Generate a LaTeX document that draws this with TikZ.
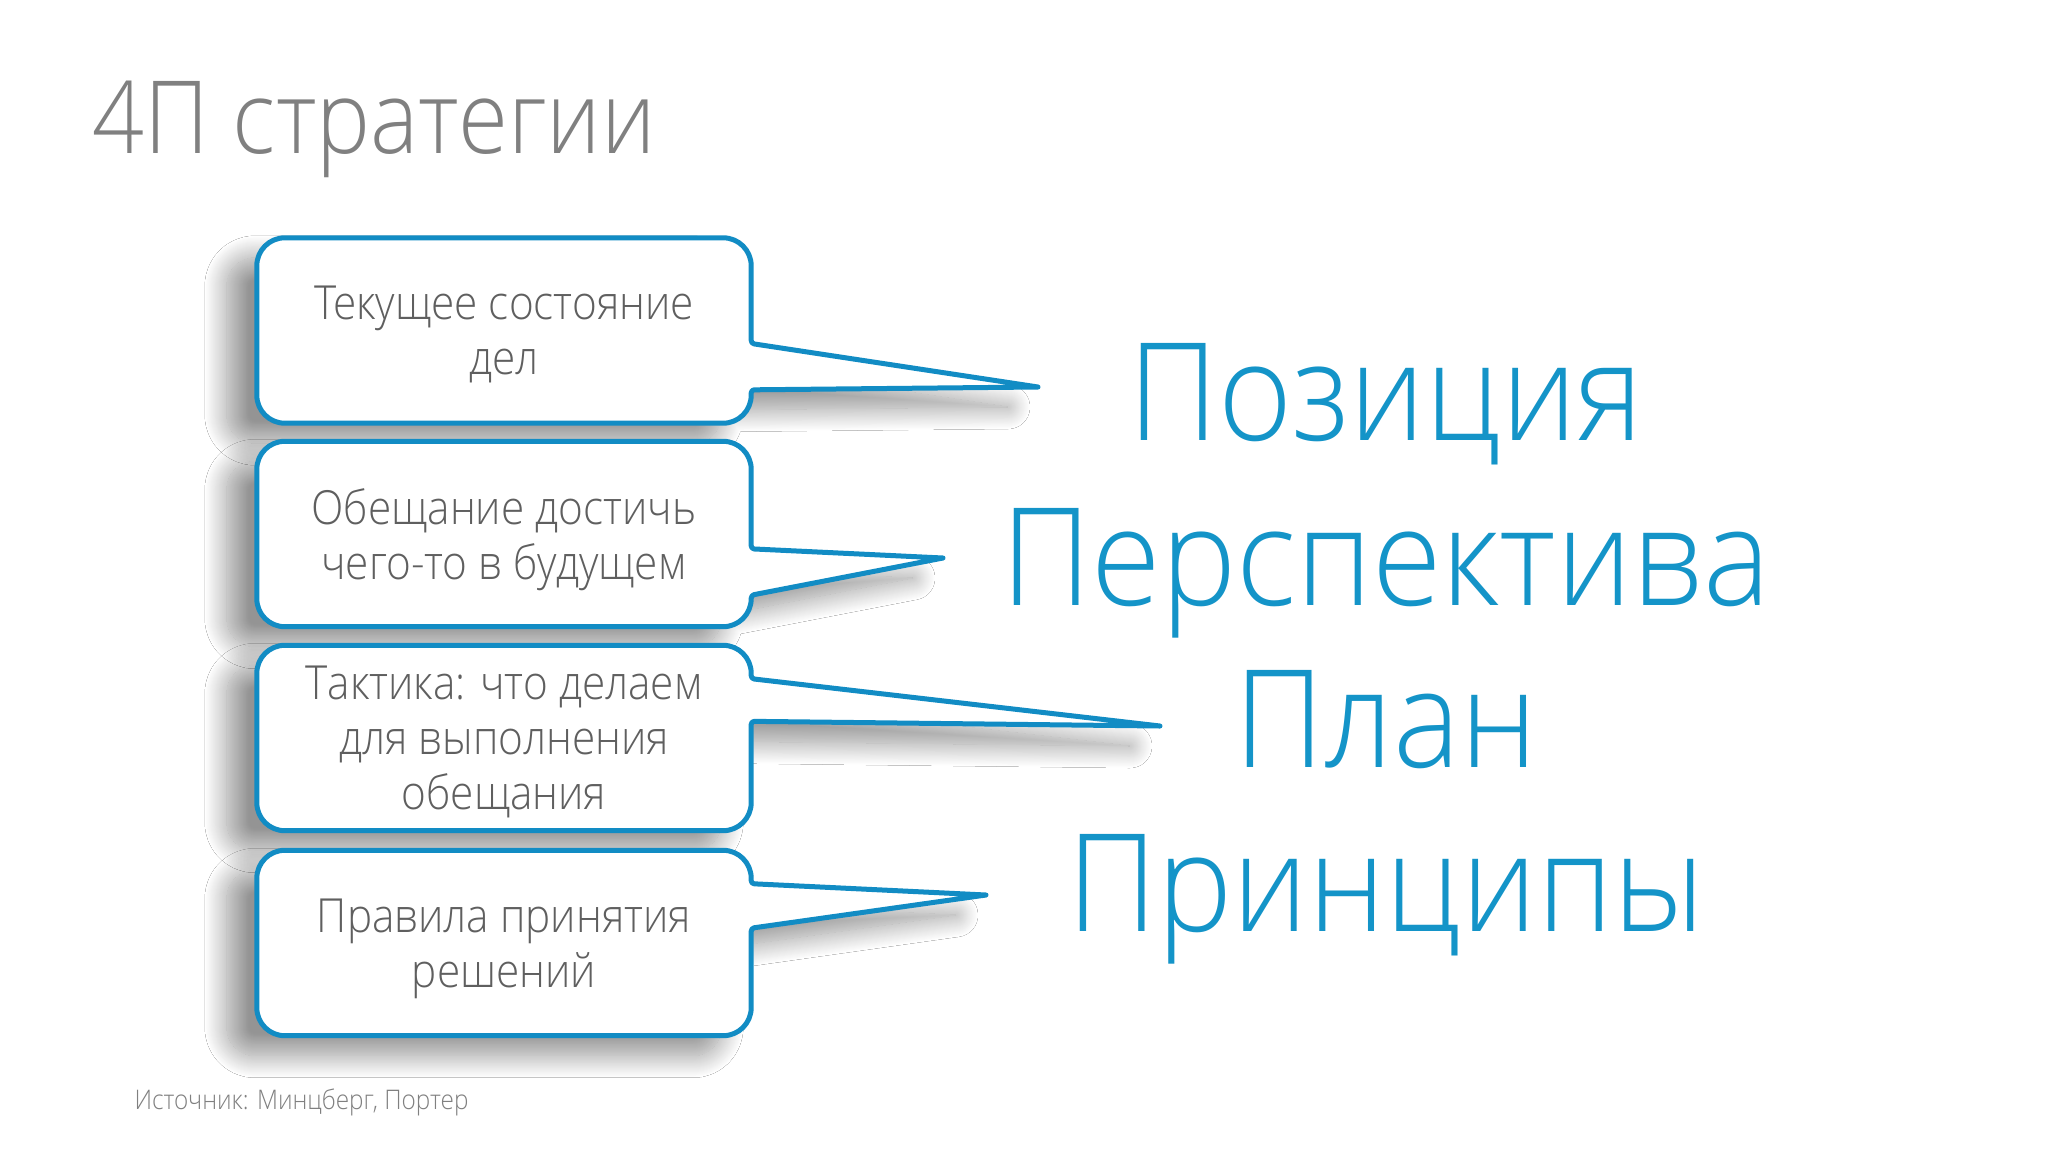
\documentclass[tikz,border=0pt]{standalone}
\usepackage{fontspec}
\setmainfont{Open Sans}[UprightFont=* Light, FakeStretch=0.9]
\newfontfamily\wordfont{Open Sans}[UprightFont=* Light, FakeStretch=0.93]
\usetikzlibrary{calc,shadows.blur}
\definecolor{calloutblue}{RGB}{18,140,196}
\definecolor{wordblue}{RGB}{20,148,200}
\definecolor{titlegray}{RGB}{128,128,128}
\definecolor{textgray}{RGB}{95,95,95}
\pgfdeclarelayer{back}
\pgfsetlayers{back,main}

\begin{document}
\begin{tikzpicture}[x=1pt, y=-1pt]
\tikzset{
  calloutbox/.style={
    rectangle, inner sep=0pt, text depth=0pt,
    minimum width=494pt, minimum height=185pt,
    align=center, text=textgray, font=\fontsize{47}{55}\selectfont
  },
  outline/.style={
    draw=calloutblue, line width=5pt, fill=white, line join=round,
    blur shadow={shadow xshift=-30pt, shadow yshift=-20pt, shadow blur radius=22pt, shadow blur steps=24, shadow opacity=42}
  },
  word/.style={anchor=base, text=wordblue, font=\wordfont\fontsize{136}{160}\selectfont}
}
\useasboundingbox (0,0) rectangle (2048,1152);
\begin{pgfonlayer}{back}
\fill[white] (0,0) rectangle (2048,1152);
\end{pgfonlayer}

\node[anchor=base west, text=titlegray, font=\fontsize{101}{120}\selectfont] (title) at (89,153) {4П стратегии};

\node[calloutbox] (pos)   at (504,330.5) {Текущее состояние\\дел};
\node[calloutbox] (persp) at (504,534)   {Обещание достичь\\чего-то в будущем};
\node[calloutbox] (plan)  at (504,738)   {Тактика: что делаем\\для выполнения\\обещания};
\node[calloutbox] (princ) at (504,943)   {Правила принятия\\решений};

\coordinate (pos-tip)   at (1038,387);
\coordinate (persp-tip) at (943,558);
\coordinate (plan-tip)  at (1160,726);
\coordinate (princ-tip) at (986,895);

\node[word] (wpos)   at (1386,440) {Позиция};
\node[word] (wpersp) at (1386,605) {Перспектива};
\node[word] (wplan)  at (1386,767) {План};
\node[word] (wprinc) at (1386,931) {Принципы};

\node[anchor=base west, text=titlegray, font=\fontsize{27}{32}\selectfont] (source) at (131,1109) {Источник: Минцберг, Портер};

\begin{pgfonlayer}{back}
\foreach \b/\u/\l in {pos/0.57/0.82, persp/0.58/0.83, plan/0.18/0.41, princ/0.18/0.42}
  \draw[outline] (\b.north) [rounded corners=28pt] -- (\b.north east)
    [rounded corners=3pt] -- ($(\b.north east)!\u!(\b.south east)$)
    [sharp corners] -- (\b-tip)
    [rounded corners=3pt] -- ($(\b.north east)!\l!(\b.south east)$)
    [rounded corners=28pt] -- (\b.south east) -- (\b.south west) -- (\b.north west) -- cycle;
\end{pgfonlayer}
\end{tikzpicture}
\end{document}
